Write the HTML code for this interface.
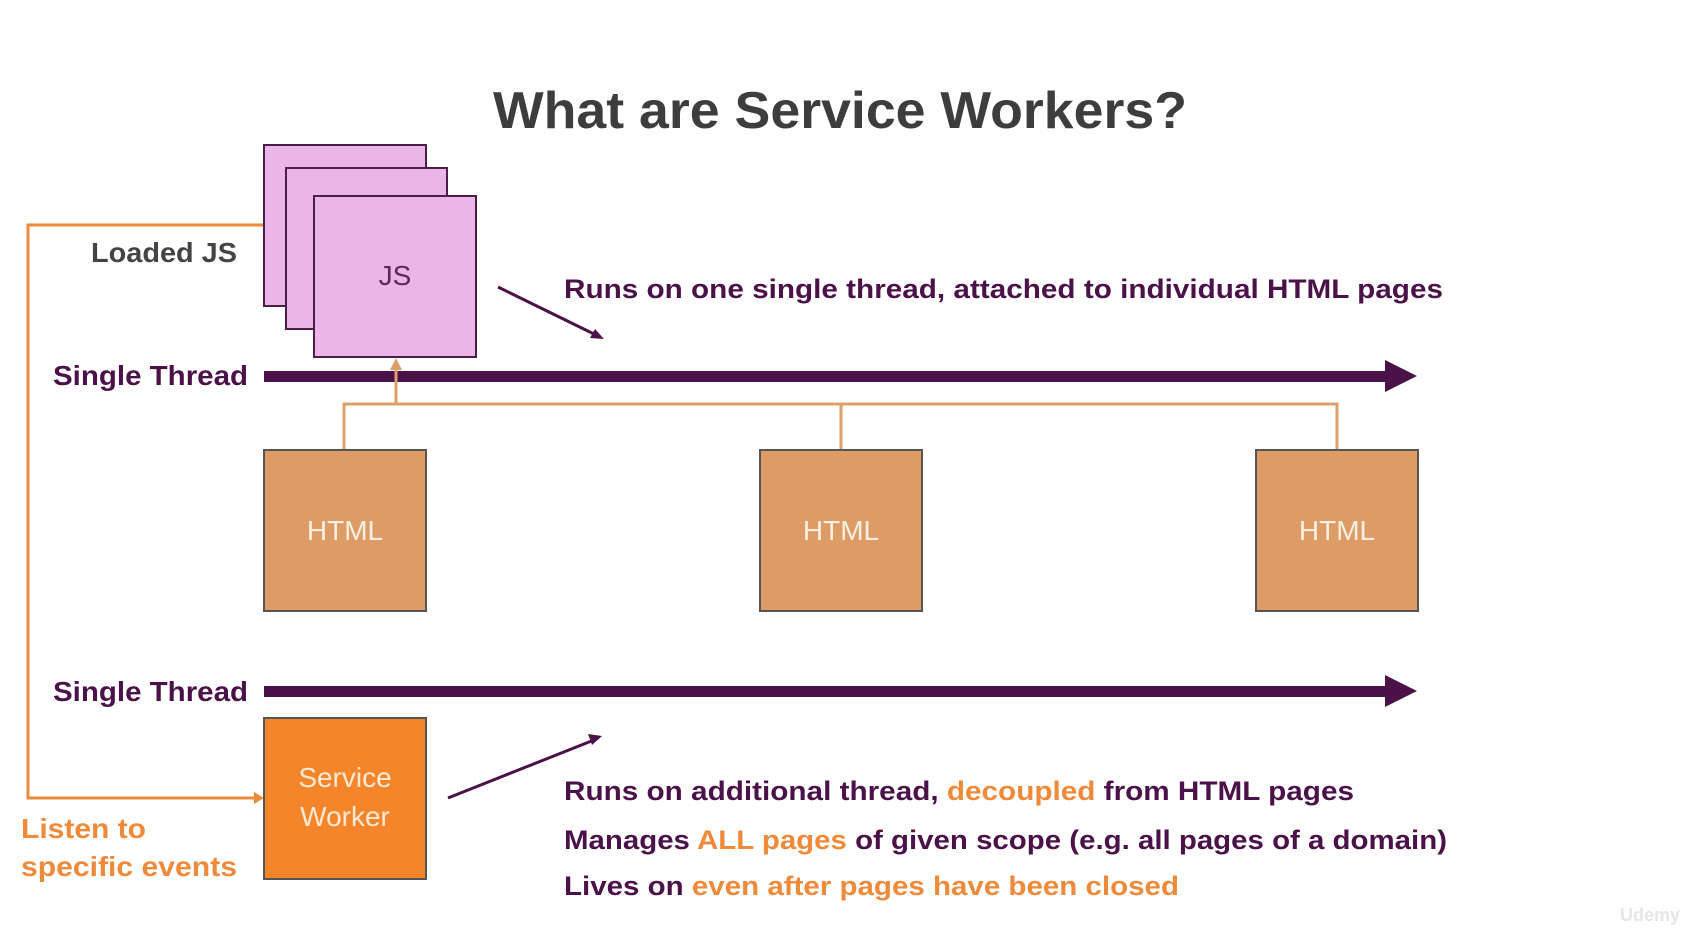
<!DOCTYPE html>
<html><head><meta charset="utf-8"><style>
body{margin:0;background:#fff;}
svg text{font-family:"Liberation Sans",sans-serif;}
</style></head><body>
<svg width="1681" height="938" viewBox="0 0 1681 938" xmlns="http://www.w3.org/2000/svg">
<text x="493" y="128" textLength="694" lengthAdjust="spacingAndGlyphs" font-size="52" font-weight="bold" fill="#3d3d3d">What are Service Workers?</text>
<polyline points="264,225 28,225 28,798 256,798" fill="none" stroke="#ee8a3a" stroke-width="3"/>
<polygon points="264,798 254,792 254,804" fill="#ee8a3a"/>
<rect x="264" y="145" width="162" height="161" fill="#ecb5e8" stroke="#4a2048" stroke-width="2"/>
<rect x="286" y="168" width="161" height="161" fill="#ecb5e8" stroke="#4a2048" stroke-width="2"/>
<rect x="314" y="196" width="162" height="161" fill="#ecb5e8" stroke="#4a2048" stroke-width="2"/>
<text x="395" y="285" text-anchor="middle" font-size="28" fill="#5a2a58">JS</text>
<text x="91" y="262" textLength="146" lengthAdjust="spacingAndGlyphs" font-size="28" font-weight="bold" fill="#444">Loaded JS</text>
<line x1="498" y1="287" x2="596" y2="335" stroke="#4a1248" stroke-width="3"/>
<polygon points="604,339 590,338 595,329" fill="#4a1248"/>
<text x="564" y="298" textLength="879" lengthAdjust="spacingAndGlyphs" font-size="27" font-weight="bold" fill="#4a1248">Runs on one single thread, attached to individual HTML pages</text>
<text x="53" y="385" textLength="195" lengthAdjust="spacingAndGlyphs" font-size="28" font-weight="bold" fill="#4a1248">Single Thread</text>
<rect x="264" y="371" width="1124" height="11" fill="#4a1248"/>
<polygon points="1385,360 1417,376 1385,392" fill="#4a1248"/>
<polyline points="344,450 344,404 1337,404 1337,450" fill="none" stroke="#dea06a" stroke-width="3"/>
<line x1="841" y1="404" x2="841" y2="450" stroke="#dea06a" stroke-width="3"/>
<line x1="396" y1="404" x2="396" y2="366" stroke="#dea06a" stroke-width="3"/>
<polygon points="396,358 390,370 402,370" fill="#dea06a"/>
<rect x="264" y="450" width="162" height="161" fill="#dd9c66" stroke="#555" stroke-width="2"/>
<rect x="760" y="450" width="162" height="161" fill="#dd9c66" stroke="#555" stroke-width="2"/>
<rect x="1256" y="450" width="162" height="161" fill="#dd9c66" stroke="#555" stroke-width="2"/>
<text x="345" y="540" text-anchor="middle" font-size="28" fill="#fbeee2">HTML</text>
<text x="841" y="540" text-anchor="middle" font-size="28" fill="#fbeee2">HTML</text>
<text x="1337" y="540" text-anchor="middle" font-size="28" fill="#fbeee2">HTML</text>
<text x="53" y="701" textLength="195" lengthAdjust="spacingAndGlyphs" font-size="28" font-weight="bold" fill="#4a1248">Single Thread</text>
<rect x="264" y="686" width="1124" height="11" fill="#4a1248"/>
<polygon points="1385,675 1417,691 1385,707" fill="#4a1248"/>
<rect x="264" y="718" width="162" height="161" fill="#f5852a" stroke="#555" stroke-width="2"/>
<text x="345" y="787" text-anchor="middle" font-size="28" fill="#fde9d6">Service</text>
<text x="345" y="826" text-anchor="middle" font-size="28" fill="#fde9d6">Worker</text>
<text x="21" y="838" textLength="125" lengthAdjust="spacingAndGlyphs" font-size="28" font-weight="bold" fill="#ee8a3a">Listen to</text>
<text x="21" y="876" textLength="216" lengthAdjust="spacingAndGlyphs" font-size="28" font-weight="bold" fill="#ee8a3a">specific events</text>
<line x1="448" y1="798" x2="594" y2="740" stroke="#4a1248" stroke-width="3"/>
<polygon points="602,736 588,734 592,745" fill="#4a1248"/>
<text x="564" y="800" textLength="790" lengthAdjust="spacingAndGlyphs" font-size="27" font-weight="bold" fill="#4a1248">Runs on additional thread, <tspan fill="#ee8a3a">decoupled</tspan> from HTML pages</text>
<text x="564" y="849" textLength="883" lengthAdjust="spacingAndGlyphs" font-size="27" font-weight="bold" fill="#4a1248">Manages <tspan fill="#ee8a3a">ALL pages</tspan> of given scope (e.g. all pages of a domain)</text>
<text x="564" y="895" textLength="615" lengthAdjust="spacingAndGlyphs" font-size="27" font-weight="bold" fill="#4a1248">Lives on <tspan fill="#ee8a3a">even after pages have been closed</tspan></text>
<text x="1620" y="921" font-size="18" font-weight="bold" fill="#e6e6e6">Udemy</text>
</svg>
</body></html>
